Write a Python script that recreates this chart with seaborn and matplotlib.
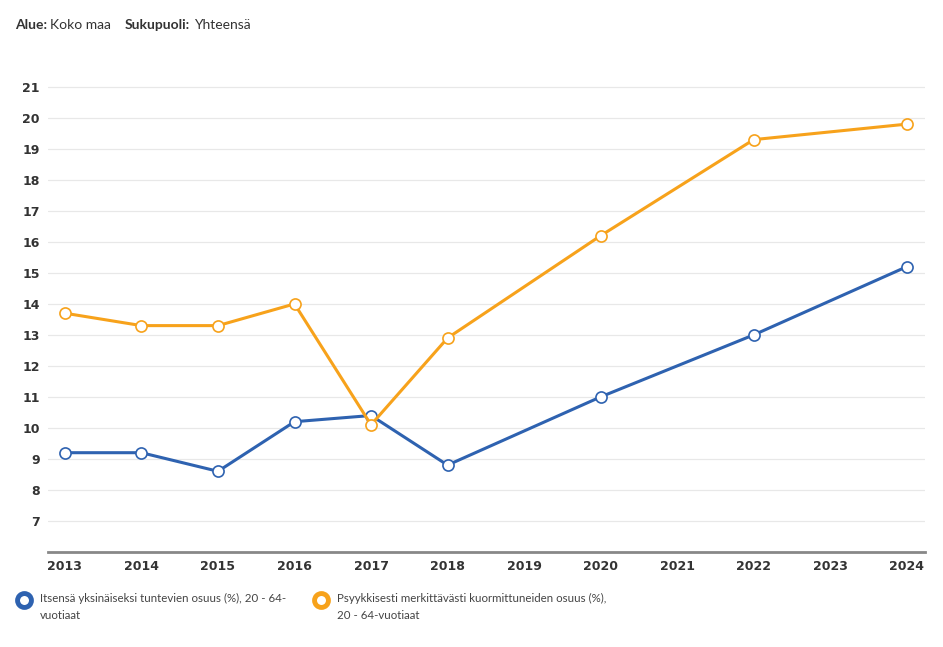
import matplotlib
matplotlib.use("Agg")
import matplotlib.pyplot as plt
from matplotlib.lines import Line2D
import seaborn as sns
import pandas as pd

# Data
years = [2013, 2014, 2015, 2016, 2017, 2018, 2020, 2022, 2024]
lonely = [9.2, 9.2, 8.6, 10.2, 10.4, 8.8, 11.0, 13.0, 15.2]
stressed = [13.7, 13.3, 13.3, 14.0, 10.1, 12.9, 16.2, 19.3, 19.8]
x_ticks = list(range(2013, 2025))
y_ticks = list(range(7, 22))

label_lonely = "Itsensä yksinäiseksi tuntevien osuus (%), 20 - 64-\nvuotiaat"
label_stressed = "Psyykkisesti merkittävästi kuormittuneiden osuus (%),\n20 - 64-vuotiaat"

blue = "#2e62b0"
orange = "#f7a21b"

sns.set_theme(style="white")
plt.rcParams['font.family'] = ['DejaVu Sans']

df = pd.DataFrame({"year": years, "lonely": lonely, "stressed": stressed})

fig = plt.figure(figsize=(9.43, 6.47), dpi=100)
ax = fig.add_axes([0.051, 0.147, 0.930, 0.733])

for col, color in [("lonely", blue), ("stressed", orange)]:
    sns.lineplot(data=df, x="year", y=col, ax=ax, color=color, linewidth=2.2,
                 marker="o", markersize=8, markerfacecolor="white",
                 markeredgecolor=color, markeredgewidth=1.2, zorder=3)

ax.set_xlim(2012.78, 2024.24)
ax.set_ylim(6.0, 21.3)
ax.set_xticks(x_ticks)
ax.set_yticks(y_ticks)
ax.set_xlabel("")
ax.set_ylabel("")
ax.grid(axis="y", color="#e8e8e8", linewidth=0.9)
ax.grid(axis="x", visible=False)
for side in ["top", "right", "left"]:
    ax.spines[side].set_visible(False)
ax.spines["bottom"].set_color("#888888")
ax.spines["bottom"].set_linewidth(2)
ax.tick_params(axis="both", length=0, labelsize=9, labelcolor="#333333")
ax.tick_params(axis="y", pad=6)
ax.tick_params(axis="x", pad=6)
for lbl in ax.get_xticklabels() + ax.get_yticklabels():
    lbl.set_fontweight("bold")
    lbl.set_family("DejaVu Sans")

# header
hdr_font = ['Lato', 'DejaVu Sans']
hdr = [(0.016, "Alue:", "bold"), (0.053, "Koko maa", "normal"),
       (0.1326, "Sukupuoli:", "bold"), (0.2057, "Yhteensä", "normal")]
for hx, txt, wt in hdr:
    fig.text(hx, 0.962, txt, fontsize=10, fontweight=wt, family=hdr_font, color="#333333", va="center")

# legend
for mx, tx, color, text in [(0.0255, 0.042, blue, label_lonely), (0.340, 0.357, orange, label_stressed)]:
    fig.add_artist(Line2D([mx], [0.072], transform=fig.transFigure, marker="o", markersize=10,
                          markerfacecolor="white", markeredgecolor=color, markeredgewidth=3.5))
    fig.text(tx, 0.084, text, fontsize=8.3, family=hdr_font, color="#444444", va="top", linespacing=1.75)

fig.savefig("out.png", dpi=100)
